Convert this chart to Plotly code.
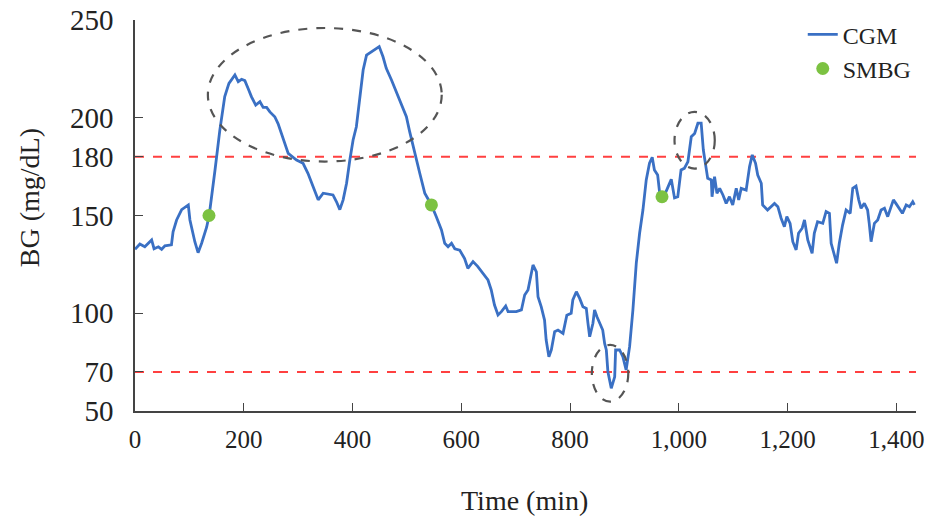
import plotly.graph_objects as go

# CGM trace (time in min, BG in mg/dL)
cgm_time = [0, 9, 18, 24.5, 30.6, 35, 43, 49, 55, 67, 70, 76.5, 85.8, 98, 101, 104, 110, 116, 122.5, 131.7,
            136.5, 147, 156, 165, 172.7, 183.7, 189.8, 196, 202, 208, 214, 222, 229.7, 235.7, 242, 248, 257, 263,
            272.5, 281.7, 297, 309, 318, 324.6, 330.7, 336.8, 346, 358, 364, 370.5, 376.6, 382.7, 389, 395, 401,
            407, 413, 419.5, 425.7, 434.8, 441, 449, 456, 462, 471.6, 480.8, 490, 499, 505, 514, 523.6, 532.8,
            545, 554, 563.5, 569.5, 575.6, 582, 588, 597, 606, 612, 621.5, 630, 643, 649, 655, 661, 667.5, 673.7,
            681.6, 686, 701, 710.5, 716.5, 722.6, 731.8, 738, 741, 747, 753, 756, 761, 765.5, 771.6, 777.7, 787,
            794, 802, 805, 811.5, 817.6, 823.6, 829.8, 832.8, 836, 842, 845, 849.4, 854, 860, 863.5, 866.6, 869.5,
            875.7, 882, 883.7, 891, 897, 903, 909.4, 915.5, 921.7, 927.8, 933.9, 940, 946, 951, 955, 961, 964.5,
            967.5, 976.8, 986, 992, 998, 1004, 1010, 1016.6, 1022.8, 1029, 1035, 1041, 1045, 1049, 1053, 1059.6,
            1061, 1065.6, 1070, 1075, 1081, 1087, 1093, 1099, 1105.5, 1110, 1114.6, 1123.7, 1130, 1135, 1141,
            1145, 1151.5, 1154, 1163, 1175.8, 1182, 1188, 1194, 1198.5, 1204.5, 1209.5, 1215.6, 1220, 1226.7,
            1231, 1237, 1245, 1249, 1255, 1264.6, 1270.7, 1276.8, 1280, 1286, 1290, 1295, 1301, 1307.5, 1315,
            1319.7, 1325.7, 1330.7, 1335, 1341, 1347, 1350, 1353.4, 1359.5, 1365.6, 1371.8, 1378, 1384, 1390,
            1394.5, 1399, 1405, 1411, 1418, 1424, 1430, 1433]
cgm_bg = [132.7, 135.4, 134, 135.8, 137.5, 133, 134, 132.7, 134.5, 135, 141.7, 147.7, 153, 155.4, 147.7, 144,
          136.6, 131, 135.8, 144, 150.3, 173, 193.7, 210.8, 217.6, 221.9, 218.5, 219.7, 219, 215, 210.8, 206.5,
          208.2, 205.3, 205.3, 203, 200.5, 197, 189.5, 181.8, 178.4, 176.7, 171.6, 166.5, 162, 158, 161.4, 161,
          160.5, 157, 153, 158, 166.5, 178.4, 188.6, 195.4, 210.8, 224.4, 232, 233.8, 234.7, 236.4, 231.2, 225.3,
          219.3, 213.3, 206.5, 200.5, 192.9, 181.8, 171.6, 161.4, 155.4, 149.4, 142.6, 135.8, 134, 135.8, 133,
          132.3, 128, 123, 126.4, 124, 119.6, 117, 111.9, 104.2, 99.1, 100.8, 103.7, 100.8, 100.8, 101.7, 109.3,
          111.9, 124.7, 121.2, 108.5, 103.3, 96.5, 86.3, 77.8, 81.2, 90.6, 91.4, 89.7, 99, 100, 106.8, 111, 107.6,
          103.3, 102.5, 94.9, 88, 94.9, 101.7, 98.2, 94.9, 91.4, 84.6, 81.2, 70.1, 61.6, 67.5, 81.2, 81.2, 77.8,
          71, 82.9, 101.7, 125.6, 140.9, 152.8, 168.2, 176.7, 179.8, 173.3, 170.7, 162, 158, 162.5, 168.5, 159,
          159.6, 173.3, 174.1, 177.5, 190.3, 192, 197.2, 197.2, 183.5, 175, 169, 168.2, 159.6, 169.9, 161.4,
          163.9, 160.5, 156.2, 159.6, 155.4, 163.9, 158, 163.9, 163, 175, 181, 176.7, 170.7, 166.5, 155.4, 152.8,
          156.2, 154.5, 148.6, 144.3, 149.4, 146, 136.6, 132.4, 140.9, 143.5, 147.7, 137.5, 130.7, 140.9, 146.8,
          146, 152, 151.1, 135.8, 128.9, 125.6, 135.8, 145.1, 152.8, 151.1, 163.9, 165, 158, 153.7, 156.2, 152.8,
          146, 136.6, 146, 147.7, 152.8, 153.7, 149.4, 154.5, 158, 156.2, 153.7, 151.1, 155.4, 154.5, 157, 155.4]

smbg_time = [136, 545, 969]
smbg_bg = [150, 155.4, 159.6]

thresholds = [180, 70]
y_ticks = [50, 70, 100, 150, 180, 200, 250]
x_ticks = [0, 200, 400, 600, 800, 1000, 1200, 1400]
x_ticktext = ["0", "200", "400", "600", "800", "1,000", "1,200", "1,400"]

# ellipses highlighting excursions: (x0, x1, y0, y1) in data units
ellipses = [(134, 564, 177.6, 245.9), (840, 907, 54.8, 83.8), (992, 1066, 174, 203)]

FONT = "Liberation Serif"
fig = go.Figure()
fig.add_trace(go.Scatter(x=cgm_time, y=cgm_bg, mode="lines", name="CGM",
                         line=dict(color="#3a70c4", width=2.8)))
fig.add_trace(go.Scatter(x=smbg_time, y=smbg_bg, mode="markers", name="SMBG",
                         marker=dict(color="#7cc242", size=13)))

for th in thresholds:
    fig.add_shape(type="line", xref="x", yref="y", x0=0, x1=1436, y0=th, y1=th,
                  line=dict(color="#ff4040", width=2, dash="dash"), layer="below")
for (x0, x1, y0, y1) in ellipses:
    fig.add_shape(type="circle", xref="x", yref="y", x0=x0, x1=x1, y0=y0, y1=y1,
                  line=dict(color="#555555", width=2.2, dash="dash"))

fig.update_layout(
    width=931, height=520,
    margin=dict(l=135, r=15, t=20, b=109, autoexpand=False),
    paper_bgcolor="white", plot_bgcolor="white",
    font=dict(family=FONT, color="#222222"),
    showlegend=True,
    legend=dict(x=0.855, y=1.02, xanchor="left", yanchor="top",
                font=dict(size=24, family=FONT), bgcolor="rgba(0,0,0,0)",
                tracegroupgap=0, itemwidth=30),
    xaxis=dict(range=[0, 1436], tickvals=x_ticks, ticktext=x_ticktext,
               ticks="inside", ticklen=8, tickcolor="#444", showgrid=False, zeroline=False,
               showline=True, linecolor="#444", linewidth=1.5, ticklabelstandoff=5,
               tickfont=dict(size=25, family=FONT, color="#222")),
    yaxis=dict(range=[50, 250], tickvals=y_ticks,
               ticks="inside", ticklen=8, tickcolor="#444", showgrid=False, zeroline=False,
               showline=True, linecolor="#444", linewidth=1.5, ticklabelstandoff=14,
               tickfont=dict(size=29, family=FONT, color="#222")),
    annotations=[
        dict(text="Time (min)", xref="paper", yref="paper", x=0.499, y=-0.228,
             xanchor="center", yanchor="middle", showarrow=False,
             font=dict(size=28, family=FONT, color="#222")),
        dict(text="BG (mg/dL)", xref="paper", yref="paper", x=-0.134, y=0.545,
             xanchor="center", yanchor="middle", textangle=-90, showarrow=False,
             font=dict(size=28, family=FONT, color="#222")),
    ],
)

fig.write_html("out.html")
